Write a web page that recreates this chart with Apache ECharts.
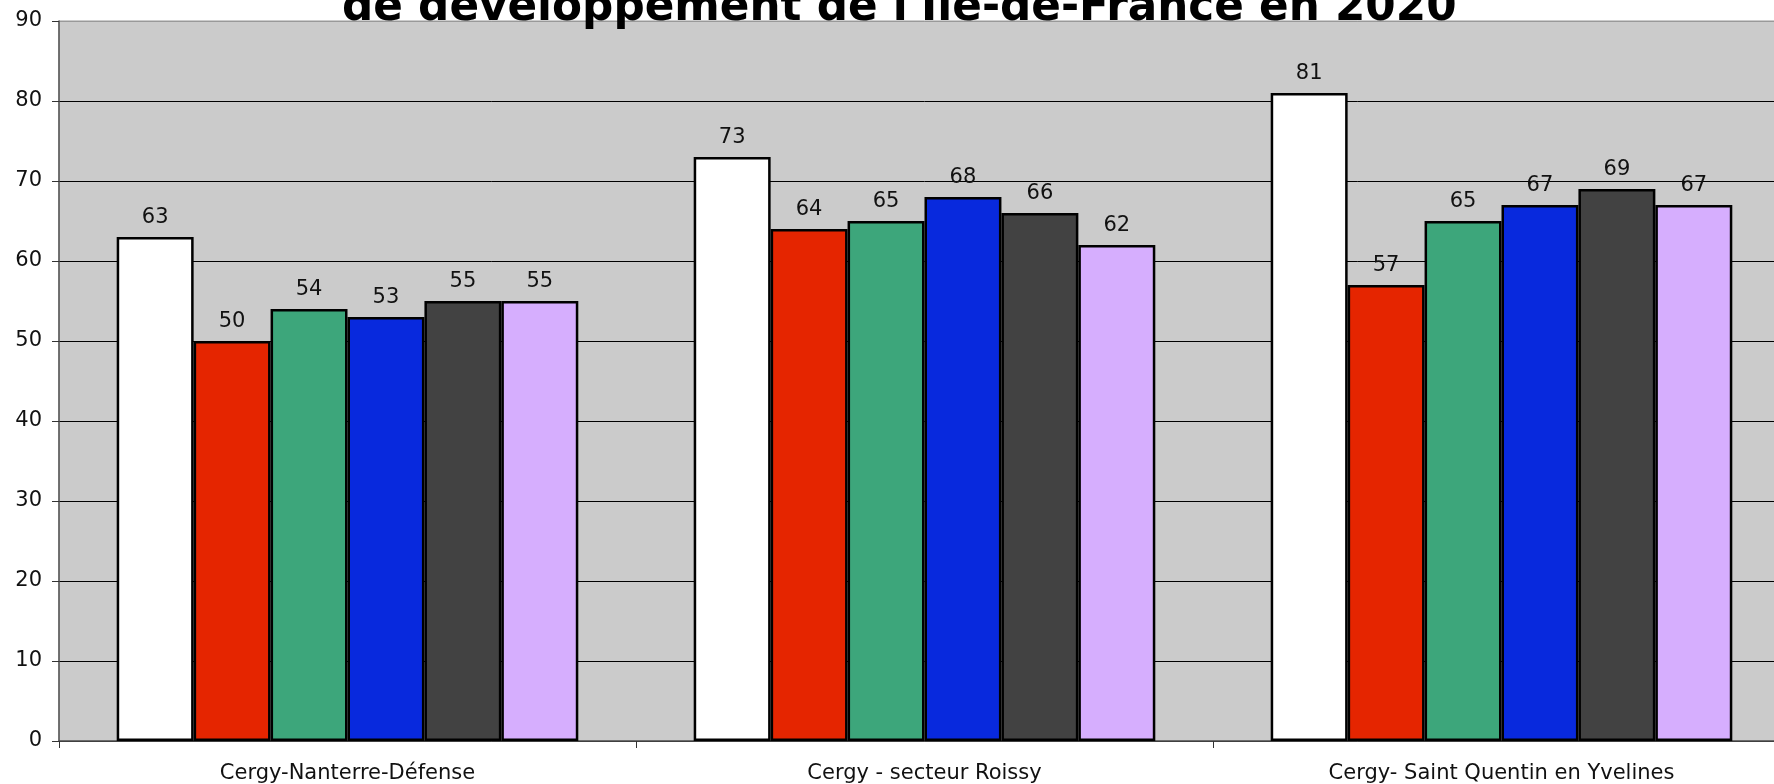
<!DOCTYPE html>
<html>
<head>
<meta charset="utf-8">
<script src="https://cdn.jsdelivr.net/npm/echarts@6/dist/echarts.min.js"></script>
<style>
html,body{margin:0;padding:0;background:#fff;overflow:hidden;width:1774px;height:784px;}
#chart{width:1790px;height:784px;}
</style>
</head>
<body>
<div id="chart"></div>
<script>
const titleText = "de développement de l'Ile-de-France en 2020";
const categories = ["Cergy-Nanterre-Défense", "Cergy - secteur Roissy", "Cergy- Saint Quentin en Yvelines"];
const seriesNames = ["Série 1", "Série 2", "Série 3", "Série 4", "Série 5", "Série 6"];
const s1 = [63, 73, 81];
const s2 = [50, 64, 57];
const s3 = [54, 65, 65];
const s4 = [53, 68, 67];
const s5 = [55, 66, 69];
const s6 = [55, 62, 67];
const seriesValues = [s1, s2, s3, s4, s5, s6];
const colors = ["#FFFFFF", "#E52500", "#3DA67B", "#0829DD", "#424242", "#D6AEFE"];
const yTicks = {min: 0, max: 90, interval: 10};

const font = "DejaVu Sans";
const chart = echarts.init(document.getElementById('chart'), null, {renderer: 'canvas'});

const splitColors = [];
for (let v = yTicks.min; v <= yTicks.max; v += yTicks.interval) {
  splitColors.push(v === yTicks.max ? '#999999' : '#000000');
}

chart.setOption({
  animation: false,
  backgroundColor: '#ffffff',
  title: {
    text: titleText,
    left: 342,
    top: -13,
    padding: 0,
    textStyle: {fontFamily: font, fontSize: 43.7, fontWeight: 'bold', color: '#000', lineHeight: 44}
  },
  grid: {
    left: 59, top: 21, bottom: 43, right: 0,
    show: true, backgroundColor: '#CBCBCB', borderColor: '#999999', borderWidth: 1,
    containLabel: false,
    outerBoundsMode: 'none'
  },
  xAxis: {
    type: 'category',
    data: categories,
    axisLine: {show: true, lineStyle: {color: '#555', width: 1.5}},
    axisTick: {show: true, length: 7, alignWithLabel: false, lineStyle: {color: '#333'}},
    axisLabel: {fontFamily: font, fontSize: 21, color: '#111', margin: 22, interval: 0},
    splitLine: {show: false}
  },
  yAxis: {
    type: 'value',
    min: yTicks.min, max: yTicks.max, interval: yTicks.interval,
    axisLine: {show: true, lineStyle: {color: '#555', width: 1.5}},
    axisTick: {show: true, length: 7, lineStyle: {color: '#333'}},
    axisLabel: {fontFamily: font, fontSize: 21, color: '#111', margin: 17},
    splitLine: {show: true, lineStyle: {color: splitColors, width: 1}}
  },
  series: seriesValues.map((vals, i) => ({
    name: seriesNames[i],
    type: 'bar',
    data: vals,
    barGap: '0%',
    barCategoryGap: '20%',
    itemStyle: {color: colors[i], borderColor: '#000', borderWidth: 2.5},
    label: {show: true, position: 'top', distance: 9, fontFamily: font, fontSize: 21, color: '#111'}
  }))
});
</script>
</body>
</html>
